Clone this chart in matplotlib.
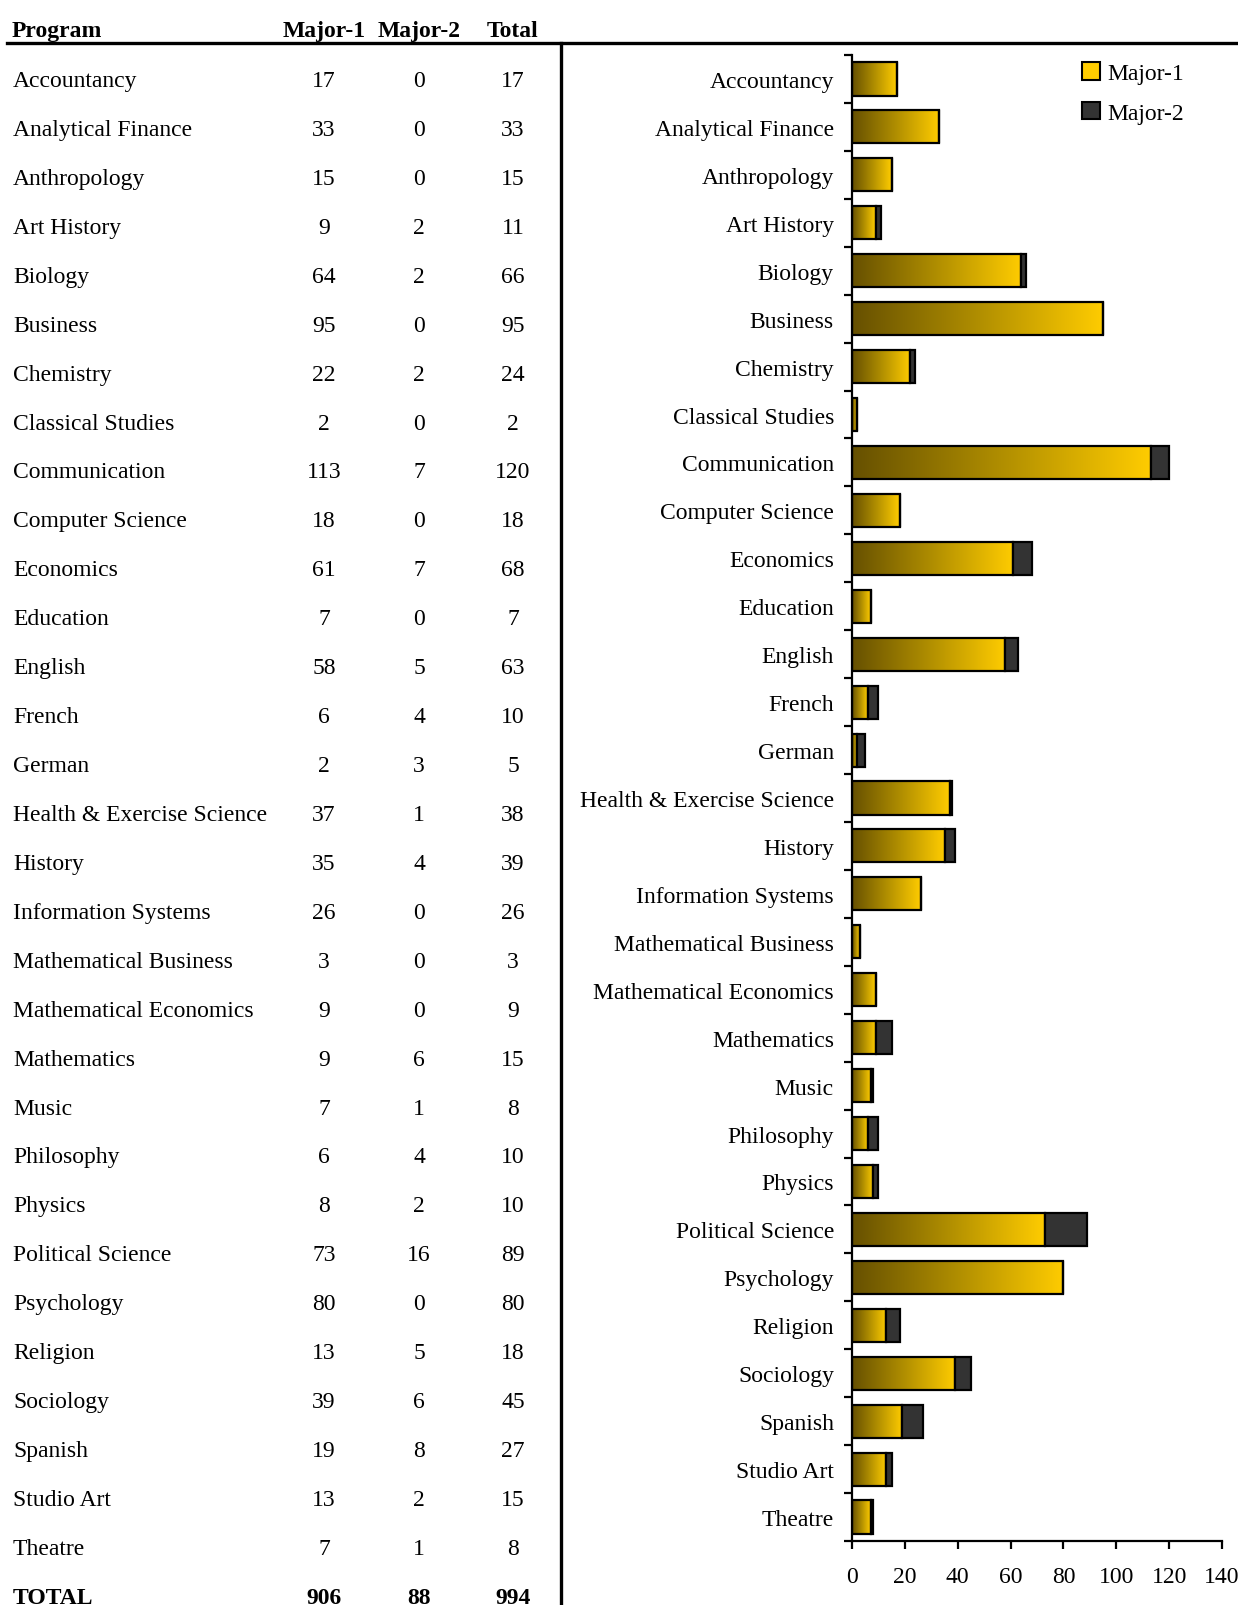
import numpy as np
import matplotlib
matplotlib.use("Agg")
import matplotlib.pyplot as plt
from matplotlib.colors import LinearSegmentedColormap
from matplotlib.patches import Patch
from matplotlib.lines import Line2D

plt.rcParams['font.family'] = ['Liberation Serif', 'DejaVu Serif']

# data
programs = ["Accountancy", "Analytical Finance", "Anthropology", "Art History", "Biology",
            "Business", "Chemistry", "Classical Studies", "Communication", "Computer Science",
            "Economics", "Education", "English", "French", "German",
            "Health & Exercise Science", "History", "Information Systems", "Mathematical Business",
            "Mathematical Economics", "Mathematics", "Music", "Philosophy", "Physics",
            "Political Science", "Psychology", "Religion", "Sociology", "Spanish",
            "Studio Art", "Theatre"]
major1 = [17, 33, 15, 9, 64, 95, 22, 2, 113, 18, 61, 7, 58, 6, 2, 37, 35, 26, 3, 9,
          9, 7, 6, 8, 73, 80, 13, 39, 19, 13, 7]
major2 = [0, 0, 0, 2, 2, 0, 2, 0, 7, 0, 7, 0, 5, 4, 3, 1, 4, 0, 0, 0,
          6, 1, 4, 2, 16, 0, 5, 6, 8, 2, 1]
x_ticks = [0, 20, 40, 60, 80, 100, 120, 140]

totals = [a + b for a, b in zip(major1, major2)]

W, H = 1238, 1606
fig = plt.figure(figsize=(W / 100, H / 100), dpi=100)

def fx(px):
    return px / W

def fy(py):
    return 1 - py / H

FS = 17
gold_cmap = LinearSegmentedColormap.from_list("gold", ["#665000", "#b08e00", "#ffcc00"])
dark = "#333333"

# ---- table on the left ----
col_x = [324, 419, 513]
fig.text(fx(12), fy(37), "Program", fontsize=17, fontweight="bold", ha="left", va="baseline")
for cx, lab in zip(col_x, ["Major-1", "Major-2", "Total"]):
    fig.text(fx(cx), fy(37), lab, fontsize=17, fontweight="bold", ha="center", va="baseline")

row_h = 48.93
for i, name in enumerate(programs):
    yb = 87 + row_h * i
    fig.text(fx(13), fy(yb), name, fontsize=FS, ha="left", va="baseline")
    for cx, v in zip(col_x, [major1[i], major2[i], totals[i]]):
        fig.text(fx(cx), fy(yb), str(v), fontsize=FS, ha="center", va="baseline")

yb = 87 + row_h * len(programs)
fig.text(fx(13), fy(yb), "TOTAL", fontsize=FS, fontweight="bold", ha="left", va="baseline")
for cx, v in zip(col_x, [sum(major1), sum(major2), sum(totals)]):
    fig.text(fx(cx), fy(yb), str(v), fontsize=FS, fontweight="bold", ha="center", va="baseline")

# separator lines
fig.add_artist(Line2D([fx(7), 1.0], [fy(44), fy(44)], color="black", lw=2.4,
                      transform=fig.transFigure))
fig.add_artist(Line2D([fx(561), fx(561)], [fy(44), 0], color="black", lw=2.4,
                      transform=fig.transFigure))

# ---- bar chart ----
ax = fig.add_axes([fx(852), fy(1542), fx(1222) - fx(852), (1542 - 56) / H])
y = np.arange(len(programs))
bh = 0.69
grad = np.linspace(0, 1, 256).reshape(1, -1)
for yi, v in zip(y, major1):
    if v > 0:
        ax.imshow(grad, cmap=gold_cmap, aspect="auto", interpolation="bilinear",
                  extent=(0, v, yi + bh / 2, yi - bh / 2), zorder=1)
ax.barh(y, major1, height=bh, facecolor="none", edgecolor="black", linewidth=1.6, zorder=2)
ax.barh(y, major2, left=major1, height=bh, color=dark, edgecolor="black", linewidth=1.6, zorder=2)

ax.set_xlim(0, 140)
ax.set_ylim(len(programs) - 0.5, -0.5)
ax.set_xticks(x_ticks)
ax.set_xticklabels([str(t) for t in x_ticks], fontsize=FS)
ax.set_yticks(y)
ax.set_yticklabels(programs, fontsize=FS)
ax.set_yticks(np.arange(len(programs) + 1) - 0.5, minor=True)
ax.tick_params(axis="y", which="major", length=0, pad=13)
ax.tick_params(axis="y", which="minor", length=6, width=1.6, direction="out")
ax.tick_params(axis="x", length=6, width=1.6, direction="out", pad=12)
for s in ["top", "right"]:
    ax.spines[s].set_visible(False)
for s in ["left", "bottom"]:
    ax.spines[s].set_linewidth(1.6)

handles = [Patch(facecolor="#ffcc00", edgecolor="black", linewidth=1.5),
           Patch(facecolor=dark, edgecolor="black", linewidth=1.5)]
ax.legend(handles, ["Major-1", "Major-2"], loc="upper left", bbox_to_anchor=(0.622, 0.995),
          frameon=False, fontsize=17, handlelength=0.75, handleheight=0.75,
          handletextpad=0.3, labelspacing=0.75, borderaxespad=0, borderpad=0)

fig.savefig("out.png", dpi=100)
